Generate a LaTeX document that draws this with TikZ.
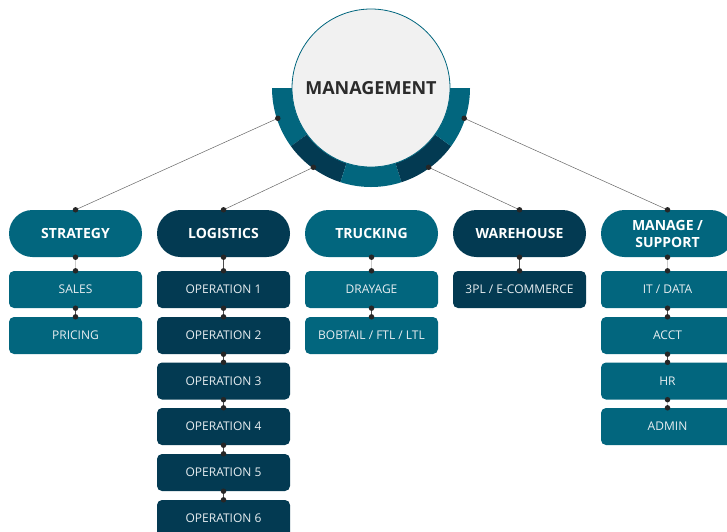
\documentclass[tikz,border=0pt]{standalone}
\usepackage{fontspec}
\setmainfont{Open Sans}
\usetikzlibrary{calc}
\definecolor{teal1}{HTML}{02667E}
\definecolor{dark1}{HTML}{033A52}
\definecolor{txtc}{HTML}{E8EEF1}
\definecolor{mgray}{HTML}{F1F1F1}
\definecolor{mtext}{HTML}{2B2B2B}
\tikzset{
  pill/.style={rounded corners=23.5pt, minimum width=133pt, minimum height=47pt, inner sep=0pt, text=white, font=\bfseries\fontsize{14}{17}\selectfont, align=center},
  sub/.style={rounded corners=5pt, minimum width=133pt, minimum height=37pt, inner sep=0pt, text=txtc, font=\fontsize{12}{14}\selectfont},
  dotc/.style={circle, fill=black!85, inner sep=0pt, minimum size=5.5pt},
  link/.style={draw=black!60, line width=0.5pt}
}
\begin{document}
\begin{tikzpicture}[x=1pt,y=-1pt]
\useasboundingbox (0,0) rectangle (727,531);
\clip (0,0) rectangle (727,531);
% ring segments
\coordinate (c0) at (371,88);
\foreach \a/\b/\c in {180/216/teal1,216/252/dark1,252/288/teal1,288/324/dark1,324/360/teal1}{
  \fill[\c] ($(c0)+(\a:99pt)$) arc[start angle=\a, end angle=\b, radius=99pt]
    -- ($(c0)+(\b:60pt)$) arc[start angle=\b, end angle=\a, radius=60pt] -- cycle;
}
\node[circle, minimum size=158pt, fill=mgray, draw=teal1, line width=0.8pt, inner sep=0pt, text=mtext, font=\bfseries\fontsize{18}{20}\selectfont] (mgmt) at (c0) {MANAGEMENT};
% ring dots
\coordinate (r1) at ($(c0)+(198:98pt)$);
\coordinate (r2) at ($(c0)+(234:98pt)$);
\coordinate (r4) at ($(c0)+(306:98pt)$);
\coordinate (r5) at ($(c0)+(342:98pt)$);
% pills
\node[pill, fill=teal1] (p1) at (75.5,233.5) {STRATEGY};
\node[pill, fill=dark1] (p2) at (223.5,233.5) {LOGISTICS};
\node[pill, fill=teal1] (p3) at (371.5,233.5) {TRUCKING};
\node[pill, fill=dark1] (p4) at (519.5,233.5) {WAREHOUSE};
\node[pill, fill=teal1] (p5) at (667.5,233.5) {MANAGE /\\SUPPORT};
% links from ring
\draw[link] (r1) -- (p1.north);
\draw[link] (r2) -- (p2.north);
\draw[link] (r4) -- (p4.north);
\draw[link] (r5) -- (p5.north);
\foreach \r in {r1,r2,r4,r5}{\node[dotc] at (\r) {};}
\foreach \p in {p1,p2,p4,p5}{\node[dotc] at (\p.north) {};}
% children
\node[sub, fill=teal1] (s1) at (75.5,289.5) {SALES};
\node[sub, fill=teal1] (s2) at (75.5,335.5) {PRICING};
\node[sub, fill=dark1] (o1) at (223.5,289.5) {OPERATION 1};
\node[sub, fill=dark1] (o2) at (223.5,335.5) {OPERATION 2};
\node[sub, fill=dark1] (o3) at (223.5,381) {OPERATION 3};
\node[sub, fill=dark1] (o4) at (223.5,426.5) {OPERATION 4};
\node[sub, fill=dark1] (o5) at (223.5,472.5) {OPERATION 5};
\node[sub, fill=dark1] (o6) at (223.5,518.5) {OPERATION 6};
\node[sub, fill=teal1] (t1) at (371.5,289.5) {DRAYAGE};
\node[sub, fill=teal1] (t2) at (371.5,335.5) {BOBTAIL / FTL / LTL};
\node[sub, fill=dark1] (w1) at (519.5,289.5) {3PL / E-COMMERCE};
\node[sub, fill=teal1] (m1) at (667.5,289.5) {IT / DATA};
\node[sub, fill=teal1] (m2) at (667.5,335.5) {ACCT};
\node[sub, fill=teal1] (m3) at (667.5,381) {HR};
\node[sub, fill=teal1] (m4) at (667.5,426.5) {ADMIN};
% vertical links
\foreach \u/\l/\c in {p1/s1/black!20,s1/s2/black!70,p2/o1/black!70,o1/o2/black!70,o2/o3/black!70,o3/o4/black!70,o4/o5/black!70,o5/o6/black!70,p3/t1/black!20,t1/t2/black!70,p4/w1/black!70,p5/m1/black!20,m1/m2/black!70,m2/m3/black!70,m3/m4/black!20}{
  \draw[draw=\c, line width=1.2pt] (\u.south) -- (\l.north);
  \node[dotc] at (\u.south) {};
  \node[dotc] at (\l.north) {};
}
\end{tikzpicture}
\end{document}
